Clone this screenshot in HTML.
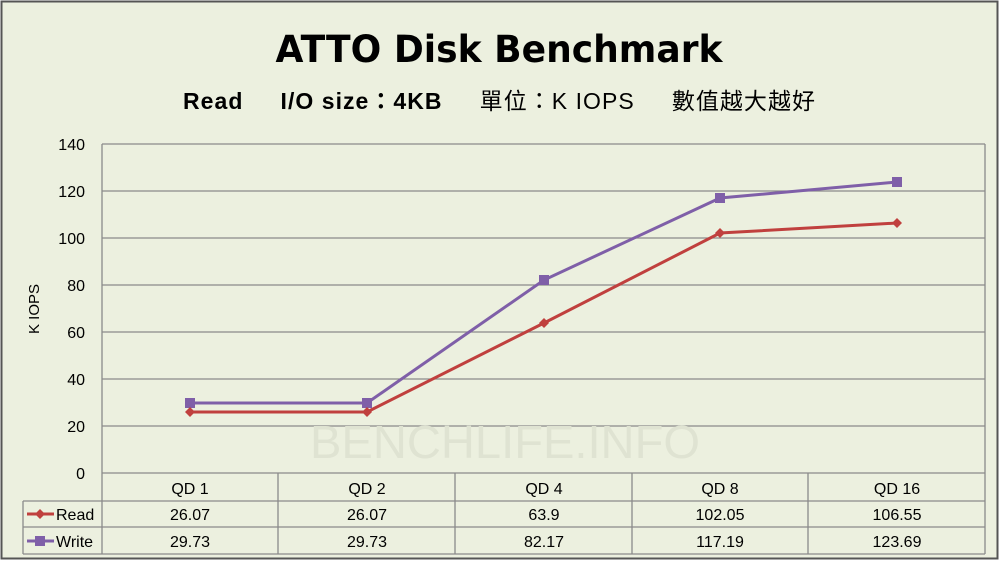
<!DOCTYPE html>
<html><head><meta charset="utf-8"><style>
body{margin:0;width:1000px;height:562px;overflow:hidden;background:#fff}
svg{display:block}
text{font-family:"Liberation Sans","Noto Sans CJK TC",sans-serif;fill:#000}
</style></head><body>
<svg width="1000" height="562" viewBox="0 0 1000 562">
<rect x="0" y="0" width="1000" height="562" fill="#ffffff"/>
<rect x="1.5" y="1.5" width="996" height="557" fill="#ecf0df" stroke="#555" stroke-width="2"/>
<text x="499" y="62" text-anchor="middle" font-size="37" font-weight="bold" style="font-family:'DejaVu Sans',sans-serif" textLength="447" lengthAdjust="spacingAndGlyphs">ATTO Disk Benchmark</text>
<text x="499" y="109" text-anchor="middle" font-size="23" font-weight="bold" xml:space="preserve" textLength="632" lengthAdjust="spacing">Read     I/O size：4KB     <tspan font-weight="normal">單位：K IOPS     數值越大越好</tspan></text>
<g stroke="#8a8a8a" stroke-width="1.3">
<line x1="102" y1="144" x2="985" y2="144"/>
<line x1="102" y1="191" x2="985" y2="191"/>
<line x1="102" y1="238" x2="985" y2="238"/>
<line x1="102" y1="285" x2="985" y2="285"/>
<line x1="102" y1="332" x2="985" y2="332"/>
<line x1="102" y1="379" x2="985" y2="379"/>
<line x1="102" y1="426" x2="985" y2="426"/>
<line x1="102" y1="473" x2="985" y2="473"/>
<line x1="102" y1="144" x2="102" y2="554"/>
<line x1="985" y1="144" x2="985" y2="554"/>
<line x1="278" y1="473" x2="278" y2="554"/>
<line x1="455" y1="473" x2="455" y2="554"/>
<line x1="632" y1="473" x2="632" y2="554"/>
<line x1="808" y1="473" x2="808" y2="554"/>
<line x1="23" y1="501" x2="985" y2="501"/>
<line x1="23" y1="527" x2="985" y2="527"/>
<line x1="23" y1="554" x2="985" y2="554"/>
<line x1="23" y1="501" x2="23" y2="554"/>
</g>
<g font-size="16" text-anchor="end">
<text x="85" y="150">140</text><text x="85" y="197">120</text><text x="85" y="244">100</text>
<text x="85" y="291">80</text><text x="85" y="338">60</text><text x="85" y="385">40</text>
<text x="85" y="432">20</text><text x="85" y="479">0</text>
</g>
<text transform="translate(39,309) rotate(-90)" text-anchor="middle" font-size="15">K IOPS</text>
<text x="505" y="458" text-anchor="middle" font-size="46" style="fill:#dfe3d2" textLength="390" lengthAdjust="spacingAndGlyphs">BENCHLIFE.INFO</text>
<polyline points="190,403 367,403 544,280 720,198 897,182" fill="none" stroke="#7f5fa8" stroke-width="3"/>
<polyline points="190,412 367,412 544,323 720,233 897,223" fill="none" stroke="#c0403e" stroke-width="3"/>
<g fill="#7f5fa8">
<rect x="185" y="398" width="10" height="10"/><rect x="362" y="398" width="10" height="10"/>
<rect x="539" y="275" width="10" height="10"/><rect x="715" y="193" width="10" height="10"/>
<rect x="892" y="177" width="10" height="10"/>
</g>
<g fill="#c0403e">
<path d="M190 407l5 5-5 5-5-5z"/><path d="M367 407l5 5-5 5-5-5z"/><path d="M544 318l5 5-5 5-5-5z"/>
<path d="M720 228l5 5-5 5-5-5z"/><path d="M897 218l5 5-5 5-5-5z"/>
</g>
<g font-size="16" text-anchor="middle">
<text x="190" y="494">QD 1</text><text x="367" y="494">QD 2</text><text x="544" y="494">QD 4</text><text x="720" y="494">QD 8</text><text x="897" y="494">QD 16</text>
<text x="190" y="520">26.07</text><text x="367" y="520">26.07</text><text x="544" y="520">63.9</text><text x="720" y="520">102.05</text><text x="897" y="520">106.55</text>
<text x="190" y="547">29.73</text><text x="367" y="547">29.73</text><text x="544" y="547">82.17</text><text x="720" y="547">117.19</text><text x="897" y="547">123.69</text>
</g>
<line x1="27" y1="514" x2="54" y2="514" stroke="#c0403e" stroke-width="3"/>
<path d="M40 509l5 5-5 5-5-5z" fill="#c0403e"/>
<text x="56" y="520" font-size="16">Read</text>
<line x1="27" y1="541" x2="54" y2="541" stroke="#7f5fa8" stroke-width="3"/>
<rect x="35" y="536" width="10" height="10" fill="#7f5fa8"/>
<text x="56" y="547" font-size="16">Write</text>
</svg>
</body></html>
